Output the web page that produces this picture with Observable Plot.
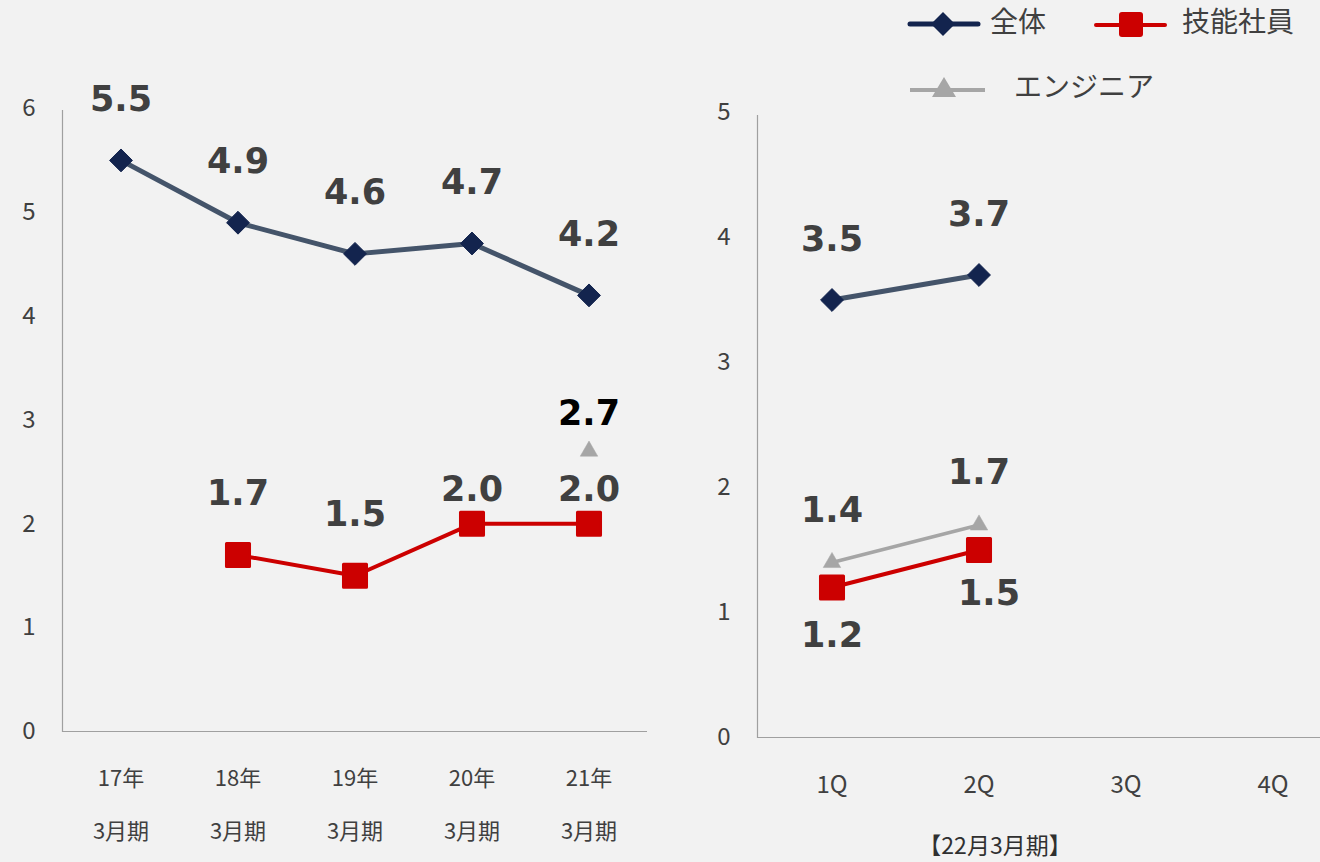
<!DOCTYPE html>
<html><head><meta charset="utf-8">
<script src="https://cdn.jsdelivr.net/npm/d3@7"></script>
<script src="https://cdn.jsdelivr.net/npm/@observablehq/plot@0.6"></script>
<style>
body{margin:0;background:#f2f2f2;}
#wrap{position:relative;width:1320px;height:862px;overflow:hidden;background:#f2f2f2;font-family:"Noto Sans CJK JP","Noto Sans",sans-serif;}
.panel{position:absolute;top:0;}
#caption{position:absolute;left:995px;top:844px;transform:translate(-50%,-50%);font-size:23px;line-height:1;color:#303030;white-space:nowrap;}
#legend{position:absolute;left:900px;top:0;}
</style></head><body><div id="wrap"><div id="caption">【22月3月期】</div></div>
<script>
// ---- data ----
const yearCats = ["17年\n3月期", "18年\n3月期", "19年\n3月期", "20年\n3月期", "21年\n3月期"];
const yearTotal = [5.5, 4.9, 4.6, 4.7, 4.2];
const yearSkilled = [null, 1.7, 1.5, 2.0, 2.0];
const yearEngineer = [null, null, null, null, 2.7];

const quarterCats = ["1Q", "2Q", "3Q", "4Q"];
const qTotal = [3.5, 3.7, null, null];
const qSkilled = [1.2, 1.5, null, null];
const qEngineer = [1.4, 1.7, null, null];

const seriesNames = ["全体", "技能社員", "エンジニア"];

function tidy(cats, arrays) {
  const rows = [];
  arrays.forEach((arr, si) => arr.forEach((v, i) => {
    if (v != null) rows.push({cat: cats[i], idx: i, series: seriesNames[si], value: v});
  }));
  return rows;
}
const yearRows = tidy(yearCats, [yearTotal, yearSkilled, yearEngineer]);
const qRows = tidy(quarterCats, [qTotal, qSkilled, qEngineer]);

// ---- styles ----
const NAVY_LINE = "#44546a", NAVY = "#13244e", RED = "#cc0000", GRAY = "#a6a6a6";
const TXT = "#404040", AXIS = "#a0a0a0";
const numFont = "DejaVu Sans";
const tickFont = "'Noto Sans CJK JP', 'Noto Sans', sans-serif";

// vertical axis line along the left edge of the frame
function leftAxisLine(topExtra, bottomExtra) {
  return (index, scales, values, dims) => {
    return d3.create("svg:line")
      .attr("x1", dims.marginLeft + 0.5).attr("x2", dims.marginLeft + 0.5)
      .attr("y1", dims.marginTop + topExtra)
      .attr("y2", dims.height - dims.marginBottom + bottomExtra)
      .attr("stroke", AXIS).attr("stroke-width", 1.2)
      .node();
  };
}

function seriesMarks(rows, labelSpec) {
  const tot = rows.filter(d => d.series === "全体");
  const sk = rows.filter(d => d.series === "技能社員");
  const en = rows.filter(d => d.series === "エンジニア");
  const lbl = (data, opts) => Plot.text(data, {x: "cat", y: "value", text: d => d.value.toFixed(1),
    fontSize: 35, fontWeight: "bold", fontFamily: numFont, fill: TXT, ...opts});
  return [
    Plot.line(tot, {x: "cat", y: "value", stroke: NAVY_LINE, strokeWidth: 5}),
    Plot.line(en, {x: "cat", y: "value", stroke: GRAY, strokeWidth: 3.5}),
    Plot.line(sk, {x: "cat", y: "value", stroke: RED, strokeWidth: 4}),
    Plot.dot(tot, {x: "cat", y: "value", symbol: "diamond2", r: 10.3, fill: NAVY, stroke: NAVY, strokeWidth: 1}),
    Plot.dot(en, {x: "cat", y: "value", symbol: "triangle", r: 6.5, fill: GRAY, stroke: GRAY, strokeWidth: 0.5}),
    Plot.dot(sk, {x: "cat", y: "value", symbol: "square", r: 13, fill: RED, stroke: RED, strokeWidth: 3, strokeLinejoin: "round"}),
    ...labelSpec(tot, sk, en, lbl)
  ];
}

const left = Plot.plot({
  width: 660, height: 862,
  marginLeft: 62, marginRight: 13, marginTop: 108, marginBottom: 131,
  style: {background: "transparent", fontFamily: tickFont, overflow: "visible"},
  x: {type: "band", domain: yearCats, padding: 0},
  y: {domain: [0, 6]},
  marks: [
    Plot.axisY({ticks: [0, 1, 2, 3, 4, 5, 6], tickFormat: d => String(d), tickSize: 0, tickPadding: 27,
      fontSize: 24, fill: TXT, label: null}),
    Plot.axisX({tickSize: 0, tickPadding: 17, fontSize: 22, lineHeight: 2.4, fill: TXT, label: null}),
    Plot.ruleY([0], {stroke: AXIS, strokeWidth: 1.2}),
    leftAxisLine(2, 1),
    ...seriesMarks(yearRows, (tot, sk, en, lbl) => [
      lbl(tot, {dy: -61}),
      lbl(sk.filter(d => d.idx < 3), {dy: -61}),
      lbl(sk.filter(d => d.idx >= 3), {dy: -34}),
      lbl(en, {dy: -37, fill: "#000"})
    ])
  ]
});
left.classList.add("panel");
left.style.left = "0px";

const right = Plot.plot({
  width: 690, height: 862,
  marginLeft: 97, marginRight: 3, marginTop: 112, marginBottom: 125,
  style: {background: "transparent", fontFamily: tickFont, overflow: "visible"},
  x: {type: "band", domain: quarterCats, padding: 0},
  y: {domain: [0, 5]},
  marks: [
    Plot.axisY({ticks: [0, 1, 2, 3, 4, 5], tickFormat: d => String(d), tickSize: 0, tickPadding: 27,
      fontSize: 24, fill: TXT, label: null}),
    Plot.axisX({tickSize: 0, tickPadding: 38, fontSize: 24, fill: TXT, label: null}),
    Plot.ruleY([0], {stroke: AXIS, strokeWidth: 1.2}),
    leftAxisLine(3, 1),
    ...seriesMarks(qRows, (tot, sk, en, lbl) => [
      lbl(tot, {dy: -60}),
      lbl(en, {dy: -52}),
      lbl(sk.filter(d => d.idx === 0), {dy: 48}),
      lbl(sk.filter(d => d.idx === 1), {dy: 44, dx: 10})
    ])
  ]
});
right.classList.add("panel");
right.style.left = "660px";

const wrap = document.getElementById("wrap");
wrap.prepend(right);
wrap.prepend(left);

// ---- legend ----
const ns = "http://www.w3.org/2000/svg";
const lg = document.createElementNS(ns, "svg");
lg.setAttribute("id", "legend");
lg.setAttribute("width", 420); lg.setAttribute("height", 110);
lg.innerHTML = `
  <line x1="10" y1="24" x2="78" y2="24" stroke="${NAVY}" stroke-width="5" stroke-linecap="round"/>
  <path d="M43,12 L55,24 L43,36 L31,24 Z" fill="${NAVY}"/>
  <text x="90" y="22" dy="0.35em" font-size="28" fill="${TXT}" font-family="${tickFont}">${seriesNames[0]}</text>
  <line x1="196" y1="25" x2="265" y2="25" stroke="${RED}" stroke-width="4" stroke-linecap="round"/>
  <rect x="219" y="12" width="24" height="25" rx="3" fill="${RED}"/>
  <text x="282" y="22" dy="0.35em" font-size="28" fill="${TXT}" font-family="${tickFont}">${seriesNames[1]}</text>
  <line x1="10" y1="90" x2="85" y2="90" stroke="${GRAY}" stroke-width="4"/>
  <path d="M44,77 L56,97 L32,97 Z" fill="${GRAY}"/>
  <text x="114" y="87" dy="0.35em" font-size="28" fill="${TXT}" font-family="${tickFont}">${seriesNames[2]}</text>
`;
wrap.appendChild(lg);
</script>
</body></html>
